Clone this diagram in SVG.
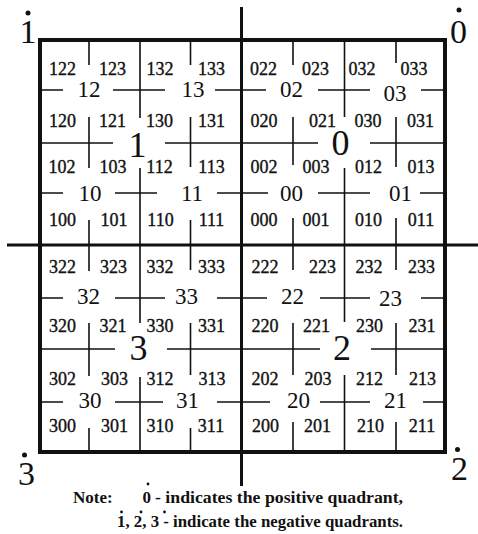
<svg xmlns="http://www.w3.org/2000/svg" width="478" height="534" viewBox="0 0 478 534">
<style>
.g{fill:none;stroke:#111;stroke-width:1.6}
.ax{fill:none;stroke:#111;stroke-width:3}
.fr{fill:none;stroke:#111;stroke-width:4}
text{font-family:"Liberation Serif","Times New Roman",serif;fill:#111;text-anchor:middle}
.s3{font-size:18px;stroke:#111;stroke-width:0.35}
.s2{font-size:23px}
.s1{font-size:36px}
.c{font-size:34px}
.n{font-size:17px;font-weight:bold;text-anchor:start}
.d{fill:#111}
</style>
<rect width="478" height="534" fill="#fff"/>
<g id="connectors">
<rect class="fr" x="40" y="40" width="405" height="412"/>
<path class="ax" d="M241.5 7V486M7 245H478"/>
<path class="g" d="M89 40V65M89 117V168M89 220V271M89 323V376M89 428V452
M140 40V118M140 168V323M140 377V452
M190.5 40V65M190.5 117V167M190.5 220V270M190.5 323V375M190.5 428V452
M293 40V65M293 117V165M293 218V270M293 323V375M293 422V452
M344.5 40V117M344.5 168V322M344.5 375V452
M396 40V63M396 117V167M396 218V270M396 323V375M396 422V452"/>
<path class="g" d="M40 90H63M113 90H165M215 90H266M318 90H370M421 90H445
M40 143H113M165 143H318M370 143H445
M40 193H63M115 193H157M217 193H268M318 193H370M420 193H445
M40 298H63M115 298H165M217 298H267M320 298H370M421 298H445
M40 349H115M167 349H320M371 349H445
M40 402H63M115 402H163M217 402H270M320 402H370M423 402H445"/>
</g>
<g id="corner-labels">
<g id="corner-1"><text class="c" x="28" y="43">1</text><circle class="d" cx="28" cy="13" r="2.5"/></g>
<g id="corner-0"><text class="c" x="458.5" y="43">0</text><circle class="d" cx="459" cy="10" r="2.5"/></g>
<g id="corner-3"><text class="c" x="26.5" y="485">3</text><circle class="d" cx="24.5" cy="455" r="2.5"/></g>
<g id="corner-2"><text class="c" x="459.5" y="480">2</text><circle class="d" cx="457.5" cy="449.5" r="2.5"/></g>
</g>
<g id="quadrant-labels">
<text id="q1" class="s1" x="137.5" y="157">1</text>
<text id="q0" class="s1" x="340.5" y="155">0</text>
<text id="q3" class="s1" x="138.5" y="360">3</text>
<text id="q2" class="s1" x="342" y="360">2</text>
</g>
<g id="subquadrant-labels" class="s2">
<text x="89" y="97">12</text><text x="193" y="97">13</text><text x="291.5" y="97">02</text><text x="395" y="101">03</text>
<text x="90" y="201">10</text><text x="192" y="201">11</text><text x="291.5" y="201">00</text><text x="400.5" y="201">01</text>
<text x="88.5" y="304">32</text><text x="186.5" y="304">33</text><text x="292.5" y="304">22</text><text x="390.5" y="306">23</text>
<text x="90" y="408">30</text><text x="187.5" y="408">31</text><text x="298.5" y="408">20</text><text x="395.5" y="408">21</text>
</g>
<g id="cell-labels" class="s3">
<text x="62.5" y="75">122</text><text x="112.5" y="75">123</text><text x="160" y="75">132</text><text x="211.5" y="75">133</text><text x="263.5" y="75">022</text><text x="315.5" y="75">023</text><text x="362" y="75">032</text><text x="414" y="75">033</text>
<text x="62.5" y="127">120</text><text x="112.5" y="127">121</text><text x="159.5" y="127">130</text><text x="211.5" y="127">131</text><text x="264" y="127">020</text><text x="322.5" y="127">021</text><text x="368" y="127">030</text><text x="420.5" y="127">031</text>
<text x="62" y="173">102</text><text x="113" y="173">103</text><text x="159.5" y="173">112</text><text x="211.5" y="173">113</text><text x="264" y="173">002</text><text x="316" y="173">003</text><text x="368.5" y="173">012</text><text x="421" y="173">013</text>
<text x="62.5" y="226">100</text><text x="114" y="226">101</text><text x="160.5" y="226">110</text><text x="211.5" y="226">111</text><text x="264" y="226">000</text><text x="316" y="226">001</text><text x="368.5" y="226">010</text><text x="421" y="226">011</text>
<text x="62.5" y="273">322</text><text x="113.5" y="273">323</text><text x="160" y="273">332</text><text x="211.5" y="273">333</text><text x="265" y="273">222</text><text x="322.5" y="273">223</text><text x="369" y="273">232</text><text x="421.5" y="273">233</text>
<text x="62.5" y="332">320</text><text x="113" y="332">321</text><text x="160" y="332">330</text><text x="211.5" y="332">331</text><text x="265" y="332">220</text><text x="316.5" y="332">221</text><text x="369.5" y="332">230</text><text x="422" y="332">231</text>
<text x="62.5" y="385">302</text><text x="114.5" y="385">303</text><text x="160" y="385">312</text><text x="212" y="385">313</text><text x="265" y="385">202</text><text x="318" y="385">203</text><text x="369.5" y="385">212</text><text x="422.5" y="385">213</text>
<text x="62.5" y="432">300</text><text x="114.5" y="432">301</text><text x="160" y="432">310</text><text x="211" y="432">311</text><text x="265.5" y="432">200</text><text x="317.5" y="432">201</text><text x="370.5" y="432">210</text><text x="422" y="432">211</text>
</g>
<g id="note">
<text class="n" x="73" y="503">Note:</text>
<text class="n" x="142.5" y="503">0</text>
<circle class="d" cx="148" cy="484" r="1.4"/>
<text class="n" x="155" y="503" textLength="248" lengthAdjust="spacingAndGlyphs">- indicates the positive quadrant,</text>
<text class="n" x="117" y="527" textLength="286" lengthAdjust="spacingAndGlyphs">1, 2, 3 - indicate the negative quadrants.</text>
<circle class="d" cx="121.5" cy="512" r="1.4"/>
<circle class="d" cx="141" cy="512" r="1.4"/>
<circle class="d" cx="164.5" cy="512" r="1.4"/>
</g>
</svg>
